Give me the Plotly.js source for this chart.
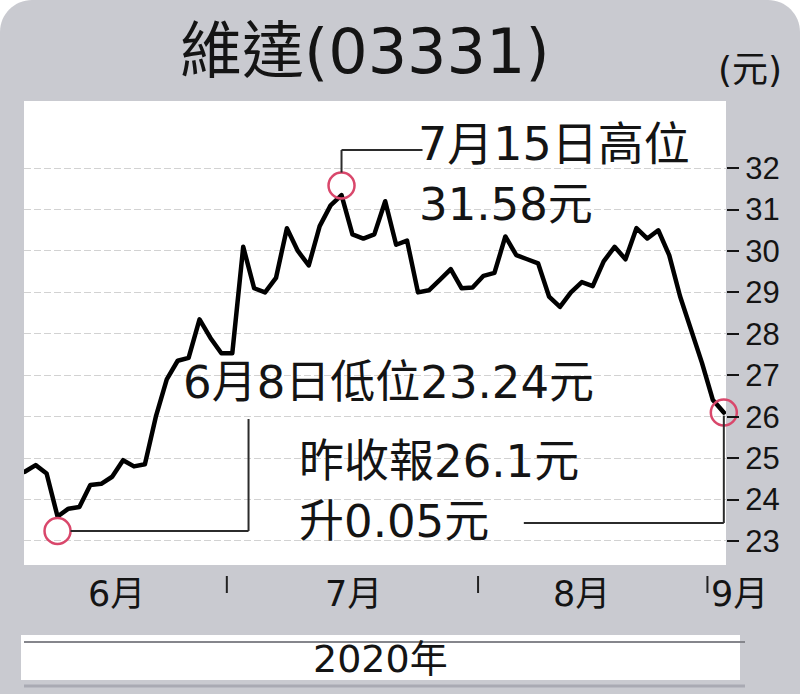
<!DOCTYPE html>
<html>
<head>
<meta charset="utf-8">
<script src="https://cdn.plot.ly/plotly-3.0.1.min.js"></script>
<style>
html,body{margin:0;padding:0;background:#ffffff;}
#chart{width:800px;height:694px;}
.scatterlayer .js-line{stroke-linejoin:round;stroke-linecap:round;}
</style>
</head>
<body>
<div id="chart"></div>
<script>
// ---------------- data ----------------
const dates = [
 '2020-06-03','2020-06-04','2020-06-05','2020-06-08','2020-06-09','2020-06-10','2020-06-11','2020-06-12',
 '2020-06-15','2020-06-16','2020-06-17','2020-06-18','2020-06-19','2020-06-22','2020-06-23','2020-06-24',
 '2020-06-26','2020-06-29','2020-06-30','2020-07-01','2020-07-02','2020-07-03','2020-07-06','2020-07-07',
 '2020-07-08','2020-07-09','2020-07-10','2020-07-13','2020-07-14','2020-07-15','2020-07-16','2020-07-17',
 '2020-07-20','2020-07-21','2020-07-22','2020-07-23','2020-07-24','2020-07-27','2020-07-28','2020-07-29',
 '2020-07-30','2020-07-31','2020-08-03','2020-08-04','2020-08-05','2020-08-06','2020-08-07','2020-08-10',
 '2020-08-11','2020-08-12','2020-08-13','2020-08-14','2020-08-17','2020-08-18','2020-08-19','2020-08-20',
 '2020-08-21','2020-08-24','2020-08-25','2020-08-26','2020-08-27','2020-08-28','2020-08-31','2020-09-01',
 '2020-09-02'
];
const closes = [
 24.67,24.83,24.63,23.59,23.78,23.82,24.35,24.38,
 24.55,24.95,24.80,24.85,26.00,26.90,27.35,27.42,
 28.35,27.90,27.53,27.53,30.10,29.10,29.00,29.35,
 30.55,30.00,29.65,30.60,31.10,31.35,30.40,30.30,
 30.40,31.20,30.15,30.25,29.00,29.05,29.30,29.56,
 29.10,29.12,29.40,29.47,30.35,29.90,29.80,29.70,
 28.90,28.65,29.00,29.25,29.15,29.75,30.10,29.80,
 30.55,30.30,30.50,29.90,28.90,28.10,27.30,26.40,
 26.10
];
const yTicks = [23,24,25,26,27,28,29,30,31,32];
const monthNames = ['6月','7月','8月','9月'];
const keyDates = ['2020-06-08','2020-07-15','2020-09-02'];
const keyValues = [23.24, 31.58, 26.1];
const chartTitle = '維達(03331)';
const unitLabel = '(元)';
const yearLabel = '2020年';
const noteHigh1 = '7月15日高位';
const noteHigh2 = '31.58元';
const noteLow = '6月8日低位23.24元';
const noteLast1 = '昨收報26.1元';
const noteLast2 = '升0.05元';

// ---------------- layout helpers ----------------
const W = 800, H = 694;
const M = {l:24, r:74, t:101, b:129};
const PW = W - M.l - M.r, PH = H - M.t - M.b;
const X_RANGE = [-0.07, dates.length - 1 + 0.2];
const Y_RANGE = [22.42, 33.62];
const pxX = p => (p - M.l) / PW;          // pixel -> paper x
const pxY = p => (H - M.b - p) / PH;      // pixel -> paper y
const unitX = PW / (X_RANGE[1] - X_RANGE[0]);   // px per index
const unitY = PH / (Y_RANGE[1] - Y_RANGE[0]);   // px per yuan

const TXT = '"DejaVu Sans", "Noto Sans CJK TC", sans-serif';
const INK = '#141414';
const BG = '#c9cad0';
const CIRCLE = '#d9476b';
const LEAD = '#2b2b2b';

// background with rounded top corners (pixel path -> paper)
function pPath(pts){
  return pts.map(s => s.replace(/(-?\d+\.?\d*),(-?\d+\.?\d*)/g,
    (m,a,b) => pxX(+a).toFixed(5) + ',' + pxY(+b).toFixed(5))).join(' ');
}
const r = 32, k = r*0.448;
const bgPath = pPath([
  'M 0,'+H, 'L 0,'+r, 'C 0,'+k+' '+k+',0 '+r+',0',
  'L '+(W-r)+',0', 'C '+(W-k)+',0 '+W+','+k+' '+W+','+r,
  'L '+W+','+H, 'Z'
]);

const shapes = [];
shapes.push({type:'path', xref:'paper', yref:'paper', path:bgPath, fillcolor:BG, line:{width:0}, layer:'below'});
shapes.push({type:'rect', xref:'paper', yref:'paper', x0:0, x1:1, y0:0, y1:1, fillcolor:'#ffffff', line:{width:0}, layer:'below'});
// year box
shapes.push({type:'rect', xref:'paper', yref:'paper', x0:pxX(21), x1:pxX(740), y0:pxY(680), y1:pxY(635), fillcolor:'#ffffff', line:{width:0}, layer:'below'});
shapes.push({type:'line', xref:'paper', yref:'paper', x0:pxX(24), x1:pxX(745), y0:pxY(642), y1:pxY(642), line:{color:'#85868c', width:2}, layer:'below'});
shapes.push({type:'line', xref:'paper', yref:'paper', x0:pxX(24), x1:pxX(745), y0:pxY(686), y1:pxY(686), line:{color:'#a9aab3', width:3}, layer:'below'});

// month boundary ticks
const boundaries = [];
for (let i = 1; i < dates.length; i++) {
  if (dates[i].slice(5,7) !== dates[i-1].slice(5,7)) boundaries.push(i - 0.5);
}
boundaries.forEach(b => shapes.push({type:'line', xref:'x', yref:'paper', x0:b, x1:b,
  y0:pxY(576), y1:pxY(593), line:{color:'#222', width:2}}));

// leader lines from the key points
const iLow = dates.indexOf(keyDates[0]), iHigh = dates.indexOf(keyDates[1]), iLast = dates.indexOf(keyDates[2]);
const vLow = keyValues[0], vHigh = keyValues[1], vLast = keyValues[2];
function seg(x0,y0,x1,y1){ shapes.push({type:'line', xref:'x', yref:'y', x0, y0, x1, y1, line:{color:LEAD, width:2}, layer:'above'}); }
// high
const hY = vHigh + 35.5/unitY;
seg(iHigh, vHigh + 13/unitY, iHigh, hY);
seg(iHigh, hY, iHigh + 81/unitX, hY);
// low
const lX = iLow + 191/unitX;
seg(iLow + 13/unitX, vLow, lX, vLow);
seg(lX, vLow, lX, vLow + 112/unitY);
// last
const eY = vLast - 110.5/unitY;
seg(iLast, vLast - 3/unitY, iLast, eY);
seg(iLast, eY, iLast - 200/unitX, eY);

// ---------------- annotations ----------------
function txt(text, x, y, size, anchor){
  return {text, xref:'paper', yref:'paper', x:pxX(x), y:pxY(y), xanchor:anchor||'center', yanchor:'middle',
    showarrow:false, font:{family:TXT, size, color:INK}, borderpad:0};
}
const annotations = [
  txt(chartTitle, 365, 52, 62),
  txt(unitLabel, 750, 69, 36),
  txt(noteHigh1, 417, 144, 46, 'left'),
  txt(noteHigh2, 418, 204, 45, 'left'),
  txt(noteLow, 182, 382, 45, 'left'),
  txt(noteLast1, 298, 461, 45, 'left'),
  txt(noteLast2, 298, 521, 45, 'left'),
  txt(yearLabel, 380, 659, 38)
];
const monthLabelX = [116, 353, 581, 739];
monthNames.forEach((m, i) => annotations.push(txt(m, monthLabelX[i], 594, 35)));

// ---------------- traces ----------------
const traces = [
  {type:'scatter', mode:'lines', x:dates, y:closes, line:{color:'#000000', width:4.5}, hoverinfo:'skip', showlegend:false},
  {type:'scatter', mode:'markers', x:keyDates, y:keyValues, cliponaxis:false, hoverinfo:'skip', showlegend:false,
   marker:{symbol:'circle-open', size:26, color:CIRCLE, line:{width:2.5, color:CIRCLE}}}
];

const layout = {
  width:W, height:H, margin:M,
  paper_bgcolor:'#ffffff', plot_bgcolor:'rgba(0,0,0,0)',
  showlegend:false,
  xaxis:{type:'category', range:X_RANGE, showgrid:false, zeroline:false, showline:false,
         showticklabels:false, ticks:''},
  yaxis:{range:Y_RANGE, side:'right', tickvals:yTicks, ticktext:yTicks.map(String),
         ticks:'outside', ticklen:12, tickwidth:2, tickcolor:INK,
         showgrid:true, gridcolor:'#d2d2d2', gridwidth:1, griddash:'7px,3px',
         zeroline:false, showline:false,
         tickfont:{family:'"Liberation Sans", Arial, sans-serif', size:31, color:INK}},
  shapes, annotations
};

Plotly.newPlot('chart', traces, layout, {staticPlot:true, displayModeBar:false});
</script>
</body>
</html>
